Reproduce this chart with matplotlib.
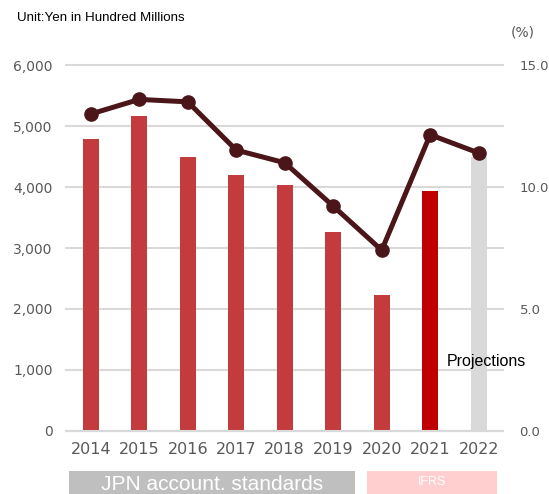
import matplotlib.pyplot as plt
import matplotlib.transforms as mtransforms
from matplotlib.patches import Rectangle

years = ['2014', '2015', '2016', '2017', '2018', '2019', '2020', '2021', '2022']
sales = [4785, 5160, 4494, 4193, 4028, 3259, 2222, 3940, 4500]
ratio = [13.0, 13.6, 13.5, 11.52, 11.0, 9.22, 7.41, 12.15, 11.4]
bar_colors = ['#c43b3d'] * 7 + ['#c00000', '#d9d9d9']

grid_c = '#d9d9d9'
tick_c = '#595959'

fig = plt.figure(figsize=(5.49, 4.94), dpi=100)
ax = fig.add_axes([0.1211, 0.1281, 0.795, 0.7397])
x = range(len(years))

ax.bar(x, sales, width=0.33, color=bar_colors, zorder=2)
ax.set_xlim(-0.5, len(years) - 0.5)
ax.set_ylim(0, 6000)
ax.set_yticks(range(0, 6001, 1000))
ax.set_yticklabels(['{:,}'.format(v) for v in range(0, 6001, 1000)])
ax.set_xticks(list(x))
ax.set_xticklabels(years)
ax.grid(axis='y', color=grid_c, linewidth=1.5, zorder=0, clip_on=False)
ax.set_axisbelow(True)
for s in ['top', 'right', 'left']:
    ax.spines[s].set_visible(False)
ax.spines['bottom'].set_color(grid_c)
ax.spines['bottom'].set_linewidth(1.5)
ax.tick_params(axis='y', length=0, pad=10, labelsize=10, labelcolor=tick_c)
ax.tick_params(axis='x', length=0, pad=8, labelsize=11.5, labelcolor=tick_c)

ax2 = ax.twinx()
ax2.plot(x, ratio, color='#4a1619', linewidth=3.6, marker='o', markersize=9.5, zorder=3)
ax2.set_ylim(0, 15)
ax2.set_yticks([0, 5, 10, 15])
ax2.set_yticklabels(['0.0', '5.0', '10.0', '15.0'])
for s in ['top', 'right', 'left', 'bottom']:
    ax2.spines[s].set_visible(False)
ax2.tick_params(axis='y', length=0, pad=12, labelsize=9.5, labelcolor=tick_c)

fig.text(0.031, 0.963, 'Unit:Yen in Hundred Millions', fontsize=9.6,
         family='Liberation Sans', va='center', ha='left')
fig.text(0.953, 0.935, '(%)', fontsize=10, color=tick_c, family='DejaVu Sans',
         va='center', ha='center')
fig.text(0.814, 0.269, 'Projections', fontsize=11.5, family='Liberation Sans',
         va='center', ha='left')

trans = mtransforms.blended_transform_factory(ax.transData, fig.transFigure)
fig.patches.append(Rectangle((-0.45, 0.0), 5.89, 0.047, transform=trans,
                             facecolor='#bfbfbf', edgecolor='none', figure=fig))
fig.patches.append(Rectangle((5.69, 0.0), 2.68, 0.047, transform=trans,
                             facecolor='#ffcfcf', edgecolor='none', figure=fig))
fig.text(2.5, 0.02, 'JPN account. standards', transform=trans, color='white',
         fontsize=15, family='Liberation Sans', ha='center', va='center')
fig.text(7.03, 0.024, 'IFRS', transform=trans, color='white',
         fontsize=9, family='Liberation Sans', ha='center', va='center')

fig.savefig('out.png', dpi=100)
